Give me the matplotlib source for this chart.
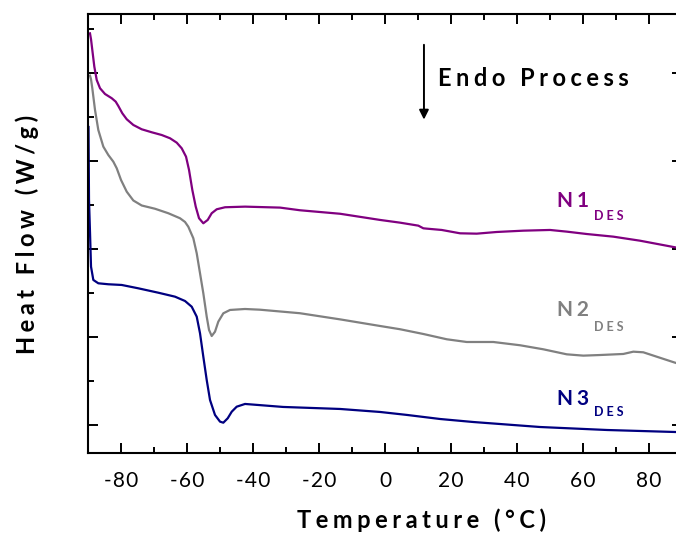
import matplotlib
matplotlib.use("Agg")
import matplotlib.pyplot as plt
from matplotlib.ticker import MultipleLocator

# DSC traces (temperature in C, heat flow in arb. units)
t_n1 = [-89.4, -89.09, -88.70, -88.09, -87.36, -86.36, -84.85, -82.82, -81.61, -80.82,
        -79.61, -78.27, -76.27, -73.73, -70.70, -67.67, -65.15, -63.12, -61.61, -60.30,
        -59.39, -58.39, -57.36, -56.36, -55.06, -53.73, -52.52, -51.00, -48.48, -42.42,
        -31.8, -25.8, -13.6, -1.52, 4.55, 10.09, 11.61, 12.64, 17.18, 22.73,
        27.79, 33.85, 41.91, 50.0, 55.06, 61.12, 69.18, 77.27, 87.88, 90.0]
hf_n1 = [4.45, 4.383, 4.261, 4.072, 3.920, 3.826, 3.761, 3.713, 3.674, 3.625,
         3.542, 3.474, 3.409, 3.360, 3.326, 3.295, 3.258, 3.208, 3.144, 3.049,
         2.898, 2.670, 2.481, 2.349, 2.292, 2.330, 2.406, 2.451, 2.474, 2.481,
         2.47, 2.44, 2.40, 2.330, 2.299, 2.265, 2.235, 2.231, 2.216, 2.178,
         2.174, 2.193, 2.208, 2.216, 2.197, 2.170, 2.140, 2.094, 2.019, 2.005]

t_n2 = [-89.4, -89.09, -88.70, -87.88, -86.88, -85.36, -83.85, -82.33, -81.30, -80.0,
        -78.27, -76.27, -73.73, -69.70, -65.67, -62.12, -60.61, -59.61, -58.09, -57.06,
        -56.06, -55.06, -54.03, -53.33, -52.52, -51.52, -50.52, -49.0, -46.97, -42.42,
        -37.9, -25.8, -13.6, -1.52, 4.55, 11.61, 18.70, 24.76, 32.82, 40.91,
        47.97, 55.06, 60.09, 65.15, 72.21, 75.24, 78.27, 82.33, 87.88, 90.0]
hf_n2 = [3.97, 3.928, 3.826, 3.580, 3.352, 3.163, 3.068, 2.992, 2.917, 2.784,
         2.651, 2.551, 2.494, 2.457, 2.406, 2.349, 2.307, 2.253, 2.122, 1.951,
         1.724, 1.497, 1.231, 1.080, 1.011, 1.060, 1.174, 1.269, 1.307, 1.318,
         1.31, 1.27, 1.20, 1.125, 1.088, 1.034, 0.974, 0.943, 0.943, 0.906,
         0.860, 0.803, 0.788, 0.795, 0.807, 0.833, 0.826, 0.776, 0.708, 0.685]

t_n3 = [-89.85, -89.70, -89.39, -89.09, -88.39, -86.88, -83.85, -79.79, -74.76, -68.70,
        -63.64, -60.61, -58.58, -57.06, -56.06, -55.06, -54.03, -53.03, -51.52, -50.0,
        -49.0, -47.67, -46.45, -44.94, -42.42, -30.9, -13.6, -1.5, 6.7, 16.7,
        26.7, 47.0, 67.3, 88.2, 90.0]
hf_n3 = [3.386, 2.557, 2.182, 1.799, 1.648, 1.610, 1.599, 1.591, 1.553, 1.503,
         1.458, 1.409, 1.344, 1.231, 1.042, 0.776, 0.511, 0.284, 0.114, 0.038,
         0.026, 0.076, 0.151, 0.208, 0.239, 0.205, 0.182, 0.148, 0.114, 0.068,
         0.034, -0.023, -0.057, -0.080, -0.082]

x_ticks = [-80, -60, -40, -20, 0, 20, 40, 60, 80]

c_n1 = "#800080"
c_n2 = "#808080"
c_n3 = "#000080"

FONT = ["Lato", "DejaVu Sans"]
GAP = "\u2009\u200a"


def spaced(s, gap=GAP):
    # the original labels are letter-spaced
    return gap.join(s)


fig = plt.figure(figsize=(6.76, 5.36), dpi=100)
ax = fig.add_axes([0.1302, 0.1549, 0.8787, 0.819])

ax.plot(t_n1, hf_n1, color=c_n1, lw=1.6)
ax.plot(t_n2, hf_n2, color=c_n2, lw=1.6)
ax.plot(t_n3, hf_n3, color=c_n3, lw=1.6)

ax.set_xlim(-90, 90)
ax.set_ylim(-0.318, 4.67)
ax.set_xticks(x_ticks)
ax.set_xticklabels([spaced(str(v), "\u200a") for v in x_ticks],
                   family=FONT, fontsize=15)
ax.xaxis.set_minor_locator(MultipleLocator(10))
ax.yaxis.set_major_locator(MultipleLocator(1))
ax.yaxis.set_minor_locator(MultipleLocator(0.5))
ax.set_yticklabels([])
ax.tick_params(which="both", direction="in", top=True, right=True, width=1.4)
ax.tick_params(which="major", length=7)
ax.tick_params(which="minor", length=4)
ax.tick_params(axis="x", which="major", pad=13)
for sp in ax.spines.values():
    sp.set_linewidth(1.5)

ax.set_xlabel(spaced("Temperature (°C)"), family=FONT, fontsize=17,
              fontweight="bold", va="center")
ax.xaxis.set_label_coords(0.561, -0.153)
ax.set_ylabel(spaced("Heat Flow (W/g)"), family=FONT, fontsize=17,
              fontweight="bold", va="center")
ax.yaxis.set_label_coords(-0.103, 0.497)

# endo direction marker
ax.annotate("", xy=(11.8, 3.47), xytext=(11.8, 4.32),
            arrowprops=dict(arrowstyle="-|>", color="black", lw=1.4,
                            mutation_scale=14, shrinkA=0, shrinkB=0))
ax.text(16.1, 3.94, spaced("Endo Process"), family=FONT, fontsize=17,
        fontweight="bold", ha="left", va="center")

# sample labels
labels = [("N1", c_n1, 2.55, 2.37),
          ("N2", c_n2, 1.31, 1.11),
          ("N3", c_n3, 0.29, 0.15)]
for name, col, y_main, y_sub in labels:
    ax.text(52.0, y_main, spaced(name), family=FONT, fontsize=15,
            fontweight="bold", color=col, ha="left", va="center")
    ax.text(63.3, y_sub, spaced("DES", " "), family=FONT, fontsize=9,
            fontweight="bold", color=col, ha="left", va="center")

fig.savefig("out.png", dpi=100)
